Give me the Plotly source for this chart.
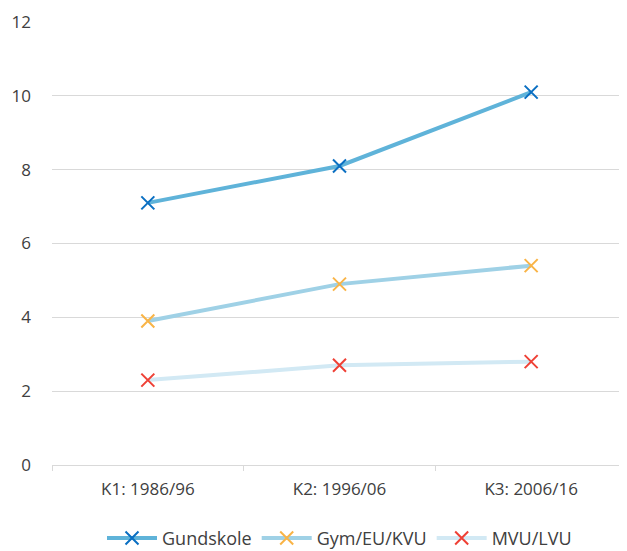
import plotly.graph_objects as go

categories = ["K1: 1986/96", "K2: 1996/06", "K3: 2006/16"]
gundskole = [7.1, 8.1, 10.1]
gym = [3.9, 4.9, 5.4]
mvu = [2.3, 2.7, 2.8]
y_ticks = [0, 2, 4, 6, 8, 10, 12]

series = [
    ("Gundskole", gundskole, "#5fb3d9", "#0a6fc2"),
    ("Gym/EU/KVU", gym, "#9fd1e6", "#f9b447"),
    ("MVU/LVU", mvu, "#d2e9f4", "#ef4136"),
]

fig = go.Figure()
for name, vals, lc, mc in series:
    fig.add_trace(go.Scatter(
        x=categories, y=vals, name=name, mode="lines+markers",
        line=dict(color=lc, width=4),
        marker=dict(symbol="x-thin", size=13, line=dict(color=mc, width=2), color=mc),
    ))

# page body has an 8px default margin; the figure's bottom runs slightly past the window
fig.update_layout(
    width=619, height=551,
    margin=dict(l=44, r=0, t=14, b=94),
    paper_bgcolor="white", plot_bgcolor="white",
    font=dict(family="Open Sans, Liberation Sans, sans-serif", size=16, color="#404040"),
    showlegend=True,
    legend=dict(orientation="h", x=0.5, xanchor="center", yref="container", y=0.004,
                yanchor="bottom", font=dict(size=18, color="#404040"), itemwidth=50,
                tracegroupgap=0),
    xaxis=dict(type="category", range=[-0.5, 2.5], tickson="boundaries", ticks="outside",
               ticklen=5, tickcolor="#d9d9d9", showgrid=False, showline=False,
               automargin=False,
               ticklabelstandoff=12, tickfont=dict(size=17, color="#404040")),
    yaxis=dict(range=[0, 12], tickvals=y_ticks, showgrid=True, gridcolor="#d9d9d9",
               gridwidth=1, zeroline=True, zerolinecolor="#d9d9d9", zerolinewidth=1,
               automargin=False,
               ticklabelstandoff=20, tickfont=dict(size=17, color="#404040")),
)

fig.write_html("out.html")
